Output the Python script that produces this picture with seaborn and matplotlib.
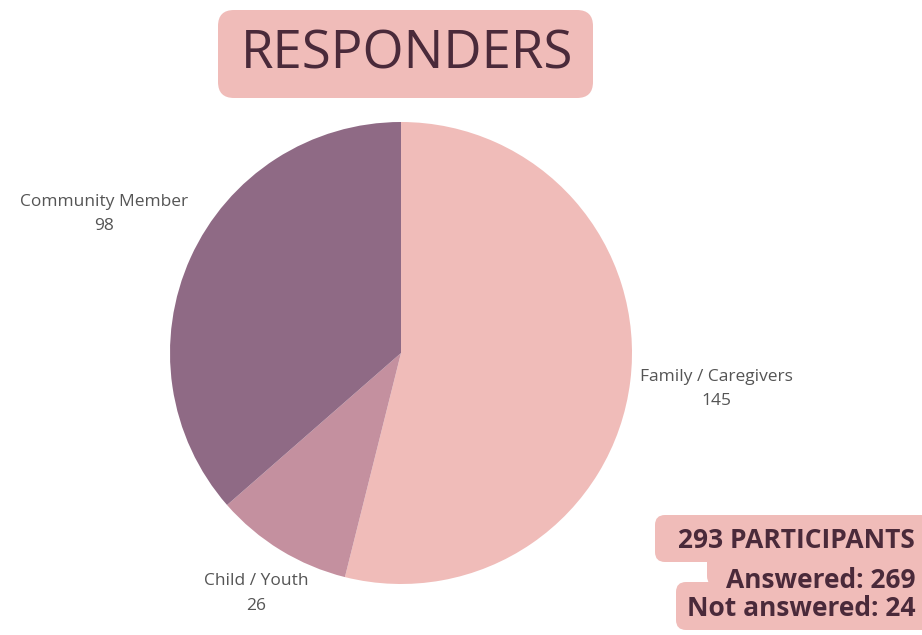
import matplotlib
matplotlib.use("Agg")
import matplotlib.pyplot as plt
from matplotlib.patches import FancyBboxPatch
import seaborn as sns

categories = ["Family / Caregivers", "Child / Youth", "Community Member"]
counts = [145, 26, 98]
colors = ["#f0bcb9", "#c4909f", "#8f6a85"]
title = "RESPONDERS"
summary_lines = ["293 PARTICIPANTS", "Answered: 269", "Not answered: 24"]

sns.set_theme(style="white")
plt.rcParams['font.family'] = ['Open Sans', 'DejaVu Sans']

W, H = 922, 635
fig = plt.figure(figsize=(W / 100, H / 100), dpi=100)
ax = fig.add_axes([0, 0, 1, 1])

cx, cy, r = 401, H - 353, 231
ax.pie(counts, colors=colors, startangle=90, counterclock=False,
       center=(cx, cy), radius=r, frame=True,
       wedgeprops=dict(linewidth=0))
ax.set_xlim(0, W)
ax.set_ylim(0, H)
ax.axis("off")

label_pos = {
    "Family / Caregivers": (716, 377, 401),
    "Child / Youth": (256, 581, 606),
    "Community Member": (104, 202, 226),
}
for cat, val in zip(categories, counts):
    x, y1, y2 = label_pos[cat]
    ax.text(x, H - y1, cat, ha="center", va="center", fontsize=12.5, color="#555555")
    ax.text(x, H - y2, str(val), ha="center", va="center", fontsize=12.5, color="#555555")

# title box
ax.add_patch(FancyBboxPatch((218, H - 98), 375, 88,
                            boxstyle="round,pad=0,rounding_size=16",
                            fc="#f0bcb9", ec="none"))
ax.text(407, H - 55, title, ha="center", va="center", fontsize=38,
        color="#4a2a3a")

# summary box (stepped)
boxes = [(655, 515, 267, 47), (707, 552, 215, 34), (676, 582, 246, 48)]
for (x0, y0, w, h) in boxes:
    ax.add_patch(FancyBboxPatch((x0, H - y0 - h), w + 20, h,
                                boxstyle="round,pad=0,rounding_size=10",
                                fc="#f0bcb9", ec="none"))
ys = [540, 580, 608]
for s, y in zip(summary_lines, ys):
    ax.text(915, H - y, s, ha="right", va="center", fontsize=19,
            fontweight="bold", color="#4a2a3a")

fig.savefig("out.png", dpi=100)
